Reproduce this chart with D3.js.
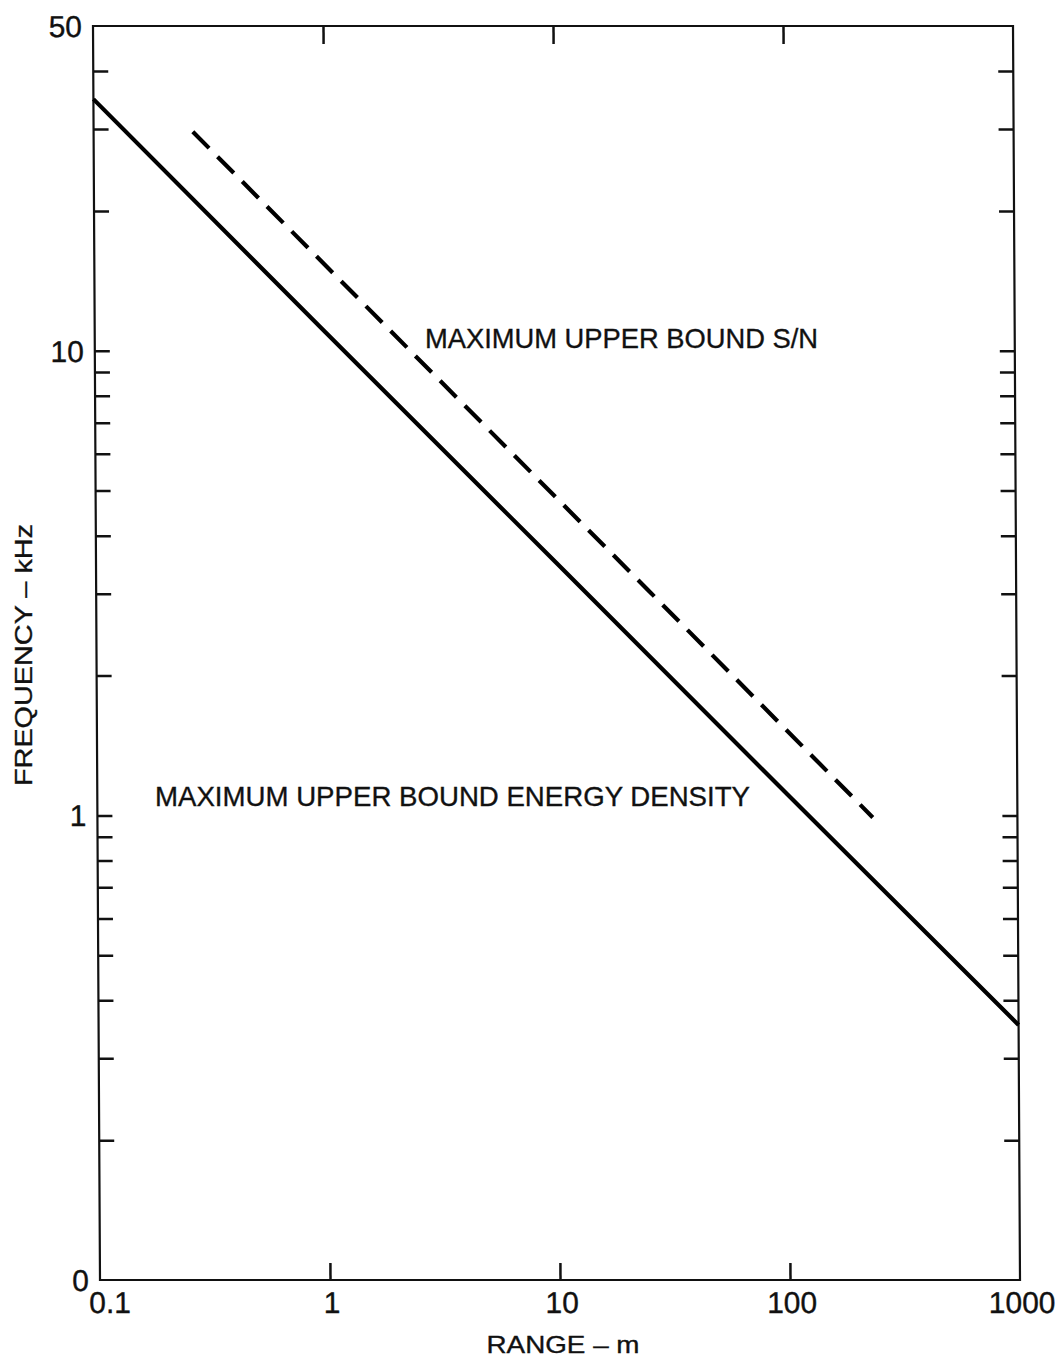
<!DOCTYPE html>
<html>
<head>
<meta charset="utf-8">
<script src="https://cdn.jsdelivr.net/npm/d3@7"></script>
<style>
  body { margin: 0; background: #fff; }
  svg { display: block; }
  text { font-family: "Liberation Sans", Arial, sans-serif; fill: #111; stroke: #111; stroke-width: 0.35; }
  .axis path.domain { display: none; }
  .axis line { stroke: #111; stroke-width: 2.5; }
</style>
</head>
<body>
<div id="chart"></div>
<script>
// data (log-log)
var rangeTicks = [0.1, 1, 10, 100, 1000];
var rangeLabels = ["0.1", "1", "10", "100", "1000"];
var freqTicks = [50, 10, 1, 0.1];
var freqLabels = ["50", "10", "1", "0"];

// energy density bound (solid)
var solidRange = [0.1, 1, 10, 100, 1000];
var solidFreq = [34.8, 11.0, 3.5, 1.11, 0.354];

// S/N bound (dashed)
var dashRange = [0.27, 2.5, 25, 235];
var dashFreq = [29.6, 9.7, 3.06, 0.99];

var W = 1060, H = 1361;
var margin = {top: 26, left: 93},
    width = 920,
    height = 1254;

// the scan is slightly sheared: left edge drifts ~7px to the right going down
var shear = Math.atan(7 / height) * 180 / Math.PI;

var svg = d3.select("#chart").append("svg")
    .attr("width", W)
    .attr("height", H);

var g = svg.append("g")
    .attr("transform", "translate(" + margin.left + "," + margin.top + ") skewX(" + shear + ")");

var x = d3.scaleLog().domain([0.1, 1000]).range([0, width]);
var y = d3.scaleLog().domain([0.1, 50]).range([height, 0]);

// minor ticks on both vertical sides (2..9 of each decade)
var minor = y.ticks().filter(function(d) { return d > 0.1 && d < 50; });

g.append("g").attr("class", "axis")
    .call(d3.axisLeft(y).tickValues(minor).tickSize(-15).tickFormat(""));

g.append("g").attr("class", "axis")
    .attr("transform", "translate(" + width + ",0)")
    .call(d3.axisRight(y).tickValues(minor).tickSize(-15).tickFormat(""));

// decade ticks on top and bottom
var inner = rangeTicks.filter(function(d) { return d > 0.1 && d < 1000; });
g.append("g").attr("class", "axis")
    .attr("transform", "translate(0," + height + ")")
    .call(d3.axisBottom(x).tickValues(inner).tickSize(-17).tickFormat(""));
g.append("g").attr("class", "axis")
    .call(d3.axisTop(x).tickValues(inner).tickSize(-18).tickFormat(""));

// frame
g.append("rect")
    .attr("width", width)
    .attr("height", height)
    .attr("fill", "none")
    .attr("stroke", "#111")
    .attr("stroke-width", 2.2);

// tick labels
g.selectAll("text.ylab")
    .data(freqTicks)
  .enter().append("text")
    .attr("class", "ylab")
    .attr("x", -11)
    .attr("y", function(d) { return y(d); })
    .attr("dy", "0.36em")
    .attr("text-anchor", "end")
    .style("font-size", "30px")
    .text(function(d, i) { return freqLabels[i]; });

g.selectAll("text.xlab")
    .data(rangeTicks)
  .enter().append("text")
    .attr("class", "xlab")
    .attr("x", function(d) { return x(d) + (d === 0.1 ? 10 : 2); })
    .attr("y", height + 33)
    .attr("text-anchor", "middle")
    .style("font-size", "30px")
    .text(function(d, i) { return rangeLabels[i]; });

// curves
var line = d3.line()
    .x(function(d) { return x(d[0]); })
    .y(function(d) { return y(d[1]); });

g.append("path")
    .datum(d3.zip(solidRange, solidFreq))
    .attr("d", line)
    .attr("fill", "none")
    .attr("stroke", "#000")
    .attr("stroke-width", 4.2);

g.append("path")
    .datum(d3.zip(dashRange, dashFreq))
    .attr("d", line)
    .attr("fill", "none")
    .attr("stroke", "#000")
    .attr("stroke-width", 4.2)
    .attr("stroke-dasharray", "23,12");

// annotations
svg.append("text")
    .attr("x", 425).attr("y", 348)
    .attr("textLength", 393)
    .attr("lengthAdjust", "spacingAndGlyphs")
    .style("font-size", "28px")
    .text("MAXIMUM UPPER BOUND S/N");

svg.append("text")
    .attr("x", 155).attr("y", 806)
    .attr("textLength", 595)
    .attr("lengthAdjust", "spacingAndGlyphs")
    .style("font-size", "28px")
    .text("MAXIMUM UPPER BOUND ENERGY DENSITY");

// axis titles
svg.append("text")
    .attr("transform", "translate(32,655) rotate(-90)")
    .attr("text-anchor", "middle")
    .attr("textLength", 262)
    .attr("lengthAdjust", "spacingAndGlyphs")
    .style("font-size", "24px")
    .text("FREQUENCY \u2013 kHz");

svg.append("text")
    .attr("x", 563).attr("y", 1353)
    .attr("text-anchor", "middle")
    .attr("textLength", 153)
    .attr("lengthAdjust", "spacingAndGlyphs")
    .style("font-size", "24px")
    .text("RANGE \u2013 m");
</script>
</body>
</html>
